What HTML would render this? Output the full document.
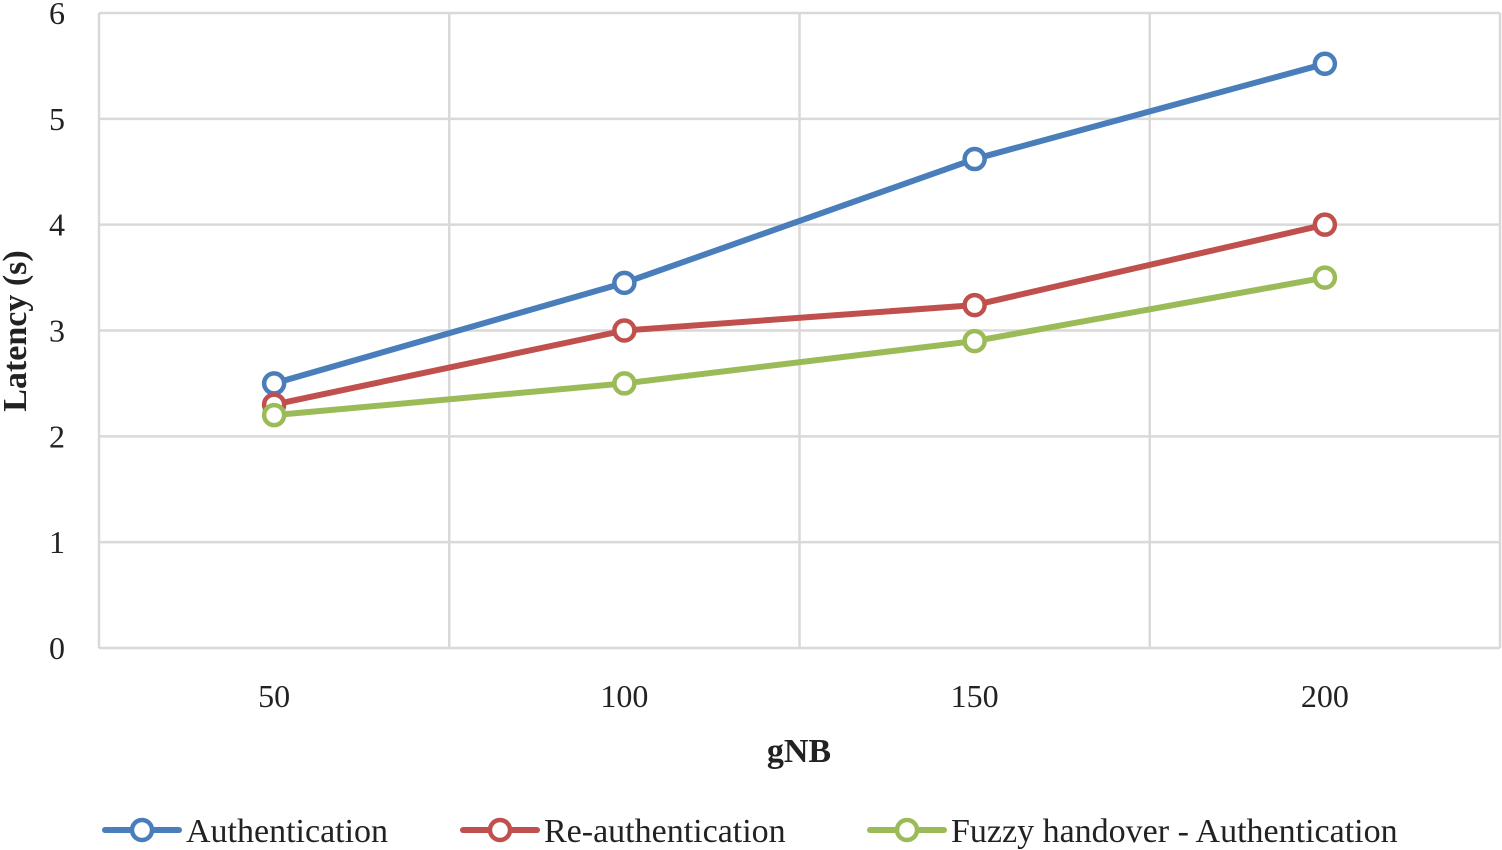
<!DOCTYPE html>
<html><head><meta charset="utf-8"><style>
html,body{margin:0;padding:0;background:#fff;}
svg{display:block;font-family:"Liberation Serif",serif;}
</style></head><body>
<svg id="chart" width="1502" height="850" viewBox="0 0 1502 850" xmlns="http://www.w3.org/2000/svg">
<g id="grid"></g>
<g id="axes"></g>
<g id="series"></g>
<text x="799" y="762" font-size="34" font-weight="bold" text-anchor="middle" fill="#222">gNB</text>
<text transform="translate(26,331) rotate(-90)" font-size="34" font-weight="bold" text-anchor="middle" fill="#222">Latency (s)</text>
<g id="legend"></g>
</svg>
<script>
const categories = ["50","100","150","200"];
const authValues = [2.5, 3.45, 4.62, 5.52];
const reauthValues = [2.3, 3.0, 3.24, 4.0];
const fuzzyValues = [2.2, 2.5, 2.9, 3.5];
const yTicks = [0,1,2,3,4,5,6];
const seriesNames = ["Authentication","Re-authentication","Fuzzy handover - Authentication"];

const NS="http://www.w3.org/2000/svg";
const plotLeft=99, plotRight=1500, plotTop=13, plotBottom=648, yMax=6;
const band=(plotRight-plotLeft)/categories.length;
function xPos(i){return plotLeft+band*(i+0.5);}
function yPos(v){return plotBottom-(v/yMax)*(plotBottom-plotTop);}
function mk(tag,attrs,parent){const e=document.createElementNS(NS,tag);for(const k in attrs)e.setAttribute(k,attrs[k]);parent.appendChild(e);return e;}

const grid=document.getElementById('grid');
yTicks.forEach(t=>{
  const l=mk('line',{x1:plotLeft,x2:plotRight,y1:yPos(t),y2:yPos(t),stroke:'#d9d9d9','stroke-width':2.5},grid);
  
  
  const tx=mk('text',{x:65,y:yPos(t)+11,'font-size':32,'text-anchor':'end',fill:'#222'},grid);
  tx.textContent=t;
  
  
});
for(let i=0;i<=categories.length;i++){
  const x=plotLeft+band*i;
  const l=mk('line',{x1:x,x2:x,y1:plotTop,y2:plotBottom,stroke:'#d9d9d9','stroke-width':2.5},grid);
  
  
}
const axes=document.getElementById('axes');
categories.forEach((c,i)=>{
  const tx=mk('text',{x:xPos(i),y:707,'font-size':32,'text-anchor':'middle',fill:'#222'},axes);
  tx.textContent=c;
  
  
});

const colors=['#4a7ebb','#c0504d','#9bbb59'];
const allSeries=[authValues,reauthValues,fuzzyValues];
const sg=document.getElementById('series');
allSeries.forEach((vals,s)=>{
  const g=mk('g',{},sg);
  
  
  const pts=vals.map((v,i)=>xPos(i)+','+yPos(v)).join(' ');
  const pl=mk('polyline',{points:pts,fill:'none',stroke:colors[s],'stroke-width':6,'stroke-linejoin':'round'},g);
  
  
  vals.forEach((v,i)=>{
    const c=mk('circle',{cx:xPos(i),cy:yPos(v),r:10,fill:'#fff',stroke:colors[s],'stroke-width':4.5},g);
    
    
  });
});

const lg=document.getElementById('legend');
const legX=[105,463,870];
seriesNames.forEach((n,s)=>{
  const g=mk('g',{},lg);
  
  
  mk('line',{x1:legX[s],x2:legX[s]+74,y1:830,y2:830,stroke:colors[s],'stroke-width':6,'stroke-linecap':'round'},g);
  mk('circle',{cx:legX[s]+37,cy:830,r:10,fill:'#fff',stroke:colors[s],'stroke-width':4.5},g);
  const t=mk('text',{x:legX[s]+81,y:842,'font-size':34,fill:'#222'},g);
  t.textContent=n;
});
</script>
</body></html>
